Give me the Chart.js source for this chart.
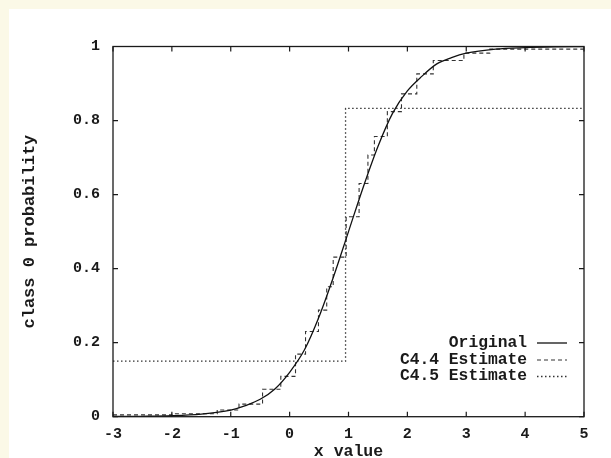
<!DOCTYPE html>
<html>
<head>
<meta charset="utf-8">
<script src="https://cdn.jsdelivr.net/npm/chart.js@4"></script>
<style>
  html, body { margin: 0; padding: 0; background: #ffffff; }
  #wrap { width: 611px; height: 458px; }
</style>
</head>
<body>
<div id="wrap"><canvas id="c" width="611" height="458"></canvas></div>
<script>
// ---- data ----
const xTicks = [-3, -2, -1, 0, 1, 2, 3, 4, 5];
const yTicks = [0, 0.2, 0.4, 0.6, 0.8, 1];

const origX = [-3, -2.5, -2, -1.5, -1, -0.75, -0.5, -0.25, 0, 0.25, 0.5, 0.75, 1, 1.25, 1.5, 1.75, 2, 2.25, 2.5, 2.75, 3, 3.5, 4, 4.5, 5];
const origY = [0.0005, 0.001, 0.0025, 0.007, 0.018, 0.03, 0.047, 0.075, 0.12, 0.18, 0.27, 0.38, 0.5, 0.62, 0.73, 0.82, 0.88, 0.92, 0.953, 0.97, 0.982, 0.993, 0.997, 0.999, 1.0];

const c44X = [-3, -2.0, -1.23, -0.86, -0.46, -0.15, 0.10, 0.27, 0.49, 0.63, 0.74, 0.96, 1.18, 1.33, 1.44, 1.66, 1.90, 2.16, 2.44, 2.96, 3.40, 5];
const c44Y = [0.005, 0.008, 0.018, 0.034, 0.074, 0.109, 0.169, 0.230, 0.288, 0.351, 0.431, 0.540, 0.630, 0.707, 0.757, 0.824, 0.872, 0.926, 0.962, 0.982, 0.993, 0.997];

const c45X = [-3, 0.95, 5];
const c45Y = [0.15, 0.833, 0.833];

const seriesLabels = ['Original', 'C4.4 Estimate', 'C4.5 Estimate'];
const xTitle = 'x value';
const yTitle = 'class 0 probability';

// ---- build ----
const zip = (xs, ys) => xs.map((x, i) => ({ x: x, y: ys[i] }));
const FONT = "'Liberation Mono', 'DejaVu Sans Mono', monospace";
const INK = '#1a1a1a';

const bgPlugin = {
  id: 'bg',
  beforeDraw(chart) {
    const ctx = chart.ctx;
    ctx.save();
    ctx.fillStyle = '#fbf9e7';
    ctx.fillRect(0, 0, chart.width, chart.height);
    ctx.fillStyle = '#ffffff';
    ctx.fillRect(9, 9, chart.width - 9, chart.height - 9);
    ctx.restore();
  }
};

const framePlugin = {
  id: 'frame',
  afterDraw(chart) {
    const ctx = chart.ctx;
    const a = chart.chartArea;
    const xs = chart.scales.x, ys = chart.scales.y;
    ctx.save();
    ctx.strokeStyle = INK;
    ctx.lineWidth = 1.3;
    ctx.setLineDash([]);
    ctx.strokeRect(a.left, a.top, a.right - a.left, a.bottom - a.top);
    ctx.lineWidth = 1.2;
    ctx.beginPath();
    xTicks.forEach(v => {
      const px = xs.getPixelForValue(v);
      ctx.moveTo(px, a.bottom); ctx.lineTo(px, a.bottom - 5);
      ctx.moveTo(px, a.top); ctx.lineTo(px, a.top + 5);
    });
    yTicks.forEach(v => {
      const py = ys.getPixelForValue(v);
      ctx.moveTo(a.left, py); ctx.lineTo(a.left + 5, py);
      ctx.moveTo(a.right, py); ctx.lineTo(a.right - 5, py);
    });
    ctx.stroke();

    // legend (text right-aligned, sample line on the right)
    ctx.font = "bold 16.3px " + FONT;
    ctx.textAlign = 'right';
    ctx.textBaseline = 'middle';
    const rowY = [342.5, 359.5, 376];
    chart.data.datasets.forEach((ds, i) => {
      ctx.fillStyle = INK;
      ctx.fillText(ds.label, 527, rowY[i]);
      ctx.strokeStyle = ds.borderColor;
      ctx.lineWidth = ds.borderWidth;
      ctx.setLineDash(ds.borderDash || []);
      ctx.beginPath();
      ctx.moveTo(537, rowY[i] + 0.5);
      ctx.lineTo(567, rowY[i] + 0.5);
      ctx.stroke();
    });
    ctx.restore();
  }
};

new Chart(document.getElementById('c'), {
  type: 'line',
  data: {
    datasets: [
      {
        label: seriesLabels[0],
        data: zip(origX, origY),
        borderColor: '#111111',
        borderWidth: 1.3,
        pointRadius: 0,
        cubicInterpolationMode: 'monotone',
        fill: false
      },
      {
        label: seriesLabels[1],
        data: zip(c44X, c44Y),
        borderColor: '#333333',
        borderWidth: 1.1,
        borderDash: [4, 3],
        pointRadius: 0,
        stepped: 'before',
        fill: false
      },
      {
        label: seriesLabels[2],
        data: zip(c45X, c45Y),
        borderColor: '#333333',
        borderWidth: 1.3,
        borderDash: [1.5, 2.5],
        pointRadius: 0,
        stepped: 'before',
        fill: false
      }
    ]
  },
  options: {
    responsive: false,
    animation: false,
    devicePixelRatio: 1,
    layout: { padding: { left: 0, top: 46.5, right: 27, bottom: 0 } },
    plugins: {
      legend: { display: false },
      tooltip: { enabled: false }
    },
    scales: {
      x: {
        type: 'linear',
        min: -3, max: 5,
        afterFit(s) { s.height = 41.3; },
        afterBuildTicks(s) { s.ticks = xTicks.map(v => ({ value: v })); },
        grid: { display: false, drawTicks: false, tickLength: 0 },
        border: { display: false },
        ticks: {
          color: INK,
          padding: 10,
          maxRotation: 0,
          font: { family: FONT, size: 15, weight: 'bold', lineHeight: 1 }
        },
        title: {
          display: true,
          text: xTitle,
          color: INK,
          padding: { top: 0, bottom: 0 },
          font: { family: FONT, size: 16.5, weight: 'bold', lineHeight: 0.8 }
        }
      },
      y: {
        type: 'linear',
        min: 0, max: 1,
        afterFit(s) { s.width = 113; },
        afterBuildTicks(s) { s.ticks = yTicks.map(v => ({ value: v })); },
        grid: { display: false, drawTicks: false, tickLength: 0 },
        border: { display: false },
        ticks: {
          color: INK,
          padding: 13,
          font: { family: FONT, size: 15, weight: 'bold', lineHeight: 1 },
          callback: v => String(v)
        },
        title: {
          display: true,
          text: yTitle,
          color: INK,
          padding: { top: 20, bottom: 0 },
          font: { family: FONT, size: 17, weight: 'bold', lineHeight: 1.2 }
        }
      }
    }
  },
  plugins: [bgPlugin, framePlugin]
});
</script>
</body>
</html>
